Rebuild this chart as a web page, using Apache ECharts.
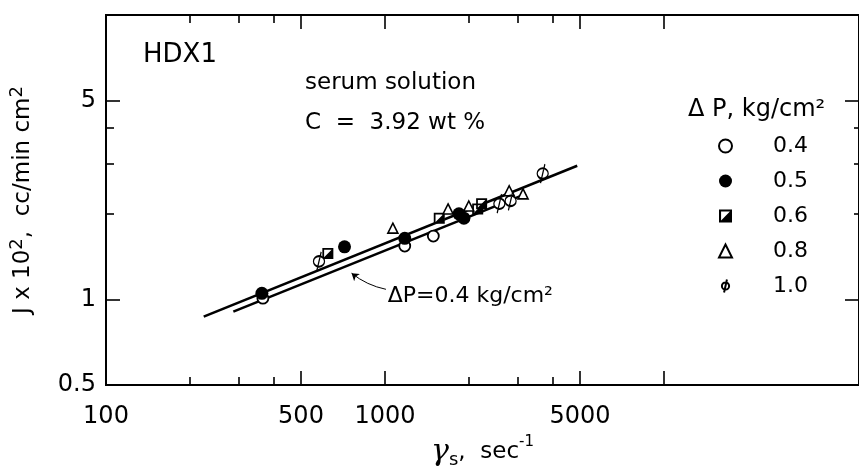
<!DOCTYPE html>
<html><head><meta charset="utf-8">
<script src="https://cdn.jsdelivr.net/npm/echarts@6/dist/echarts.min.js"></script>
<style>html,body{margin:0;padding:0;background:#fff}#c{width:859px;height:475px}</style>
</head><body><div id="c"></div>
<script>
// ---- data ----
const xTickMajor = [500, 1000, 5000, 10000];
const xTickMinor = [200, 300, 400, 2000, 3000, 4000];
const xTickLabels = [100, 500, 1000, 5000];
const yTickMajor = [1, 5];
const yTickMinor = [2, 3, 4];
const yTickLabels = [0.5, 1, 5];
const seriesNames = ['0.4', '0.5', '0.6', '0.8', '1.0'];
const dp04 = [[365, 1.01], [1177, 1.54], [1490, 1.67]];
const dp05 = [[362, 1.05], [716, 1.53], [1177, 1.64], [1841, 2.0], [1918, 1.93]];
const dp06 = [[624, 1.45], [1565, 1.93], [2149, 2.08], [2220, 2.17]];
const dp08 = [[1067, 1.78], [1683, 2.08], [1997, 2.13], [2787, 2.41], [3125, 2.35]];
const dp10 = [[580, 1.36], [2570, 2.17], [2820, 2.22], [3675, 2.77]];
const fitUpper = [[224, 0.87], [4887, 2.95]];
const fitLower = [[286, 0.906], [3200, 2.35]];
const noteArrow = [[1008, 1.085], [759, 1.236]];
const noteAnchor = [1023, 1.025];
const noteText = 'ΔP=0.4 kg/cm²';

// ---- chart ----
const FONT = 'DejaVu Sans';
const BLACK = '#000';
const xMin = 100, xMax = 50000, yMin = 0.5, yMax = 10;
const sqPath = 'path://M0,0L10,0L10,10L0,10ZM1.6,1.6L1.6,8.4L8.4,8.4L8.4,1.6ZM8.4,1.6L8.4,8.4L1.6,8.4Z';
const phiPath = 'path://M10,9A5,5,0,1,1,0,9A5,5,0,1,1,10,9ZM7,0L3,18';
const plain = v => String(v);

function xAxisDef(pos, ticks, len, labels, extra) {
  return Object.assign({
    type: 'log', logBase: 10, min: xMin, max: xMax, position: pos,
    axisLine: { show: true, lineStyle: { color: BLACK, width: 2 } },
    axisTick: { show: true, inside: true, length: len, customValues: ticks, lineStyle: { color: BLACK, width: 1.6 } },
    axisLabel: labels ? { show: true, customValues: labels, formatter: plain, fontSize: 24, fontFamily: FONT, color: BLACK, margin: 20 } : { show: false },
    splitLine: { show: false }, minorTick: { show: false }
  }, extra || {});
}
function yAxisDef(pos, ticks, len, labels, extra) {
  return Object.assign({
    type: 'log', logBase: 10, min: yMin, max: yMax, position: pos,
    axisLine: { show: true, lineStyle: { color: BLACK, width: 2 } },
    axisTick: { show: true, inside: true, length: len, customValues: ticks, lineStyle: { color: BLACK, width: 1.6 } },
    axisLabel: labels ? { show: true, customValues: labels, formatter: plain, fontSize: 24, fontFamily: FONT, color: BLACK, margin: 10 } : { show: false },
    splitLine: { show: false }, minorTick: { show: false }
  }, extra || {});
}

const option = {
  backgroundColor: '#fff',
  animation: false,
  grid: { left: 104, top: 15, bottom: 90, right: -9, containLabel: false },
  xAxis: [
    xAxisDef('bottom', xTickMajor, 14, xTickLabels, {
      name: '{g|γ}{s|s}{t|,  sec}{p|-1}', nameLocation: 'middle', nameGap: 50,
      nameTextStyle: { color: BLACK, fontFamily: FONT, rich: {
        g: { fontSize: 30, fontStyle: 'italic', fontFamily: 'DejaVu Serif', lineHeight: 34, color: BLACK },
        s: { fontSize: 18, lineHeight: 18, verticalAlign: 'bottom', fontFamily: FONT, color: BLACK },
        t: { fontSize: 23, lineHeight: 26, fontFamily: FONT, color: BLACK },
        p: { fontSize: 15, lineHeight: 15, verticalAlign: 'top', fontFamily: FONT, color: BLACK }
      } }
    }),
    xAxisDef('bottom', xTickMinor, 8, null),
    xAxisDef('top', xTickMajor, 14, null),
    xAxisDef('top', xTickMinor, 8, null)
  ],
  yAxis: [
    yAxisDef('left', yTickMajor, 14, yTickLabels, {
      name: 'J x 10{sup|2},  cc/min cm{sup|2}', nameLocation: 'middle', nameGap: 68, nameRotate: 90,
      nameTextStyle: { color: BLACK, fontFamily: FONT, fontSize: 23, lineHeight: 30, rich: {
        sup: { fontSize: 18, lineHeight: 18, verticalAlign: 'top', fontFamily: FONT, color: BLACK }
      } }
    }),
    yAxisDef('left', yTickMinor, 8, null),
    yAxisDef('right', yTickMajor, 14, null),
    yAxisDef('right', yTickMinor, 5, null)
  ],
  legend: {
    orient: 'vertical', left: 713, top: 130, itemWidth: 13, itemHeight: 13, itemGap: 13,
    selectedMode: false, data: seriesNames,
    textStyle: { fontSize: 22, fontFamily: FONT, color: BLACK, lineHeight: 22, padding: [0, 0, 0, 36] }
  },
  graphic: [
    { type: 'text', left: 143, top: 42, style: { text: 'HDX1', font: '26px "DejaVu Sans"', fill: BLACK } },
    { type: 'text', left: 305, top: 72, style: { text: 'serum solution', font: '23px "DejaVu Sans"', fill: BLACK } },
    { type: 'text', left: 305, top: 112, style: { text: 'C  =  3.92 wt %', font: '23px "DejaVu Sans"', fill: BLACK } },
    { type: 'text', left: 688, top: 98, style: { text: 'Δ P, kg/cm²', font: '24px "DejaVu Sans"', fill: BLACK } }
  ],
  series: [
    { type: 'line', data: fitUpper, symbol: 'none', lineStyle: { color: BLACK, width: 2.6 }, silent: true, z: 1 },
    { type: 'line', data: fitLower, symbol: 'none', lineStyle: { color: BLACK, width: 2.6 }, silent: true, z: 1 },
    { type: 'lines', coordinateSystem: 'cartesian2d', silent: true, z: 1,
      symbol: ['none', 'arrow'], symbolSize: 7,
      lineStyle: { color: BLACK, width: 1, opacity: 1, curveness: 0.12 },
      data: [{ coords: noteArrow }] },
    { type: 'scatter', data: [noteAnchor], symbolSize: 0, silent: true,
      itemStyle: { opacity: 1 },
      label: { show: true, position: 'right', distance: 0, formatter: noteText, fontSize: 22, fontFamily: FONT, color: BLACK, opacity: 1 } },
    { name: seriesNames[0], type: 'scatter', data: dp04, symbol: 'circle', symbolSize: 11,
      itemStyle: { color: '#fff', borderColor: BLACK, borderWidth: 1.8, opacity: 1 } },
    { name: seriesNames[1], type: 'scatter', data: dp05, symbol: 'circle', symbolSize: 13,
      itemStyle: { color: BLACK, borderColor: BLACK, borderWidth: 0, opacity: 1 } },
    { type: 'scatter', data: dp06, symbol: 'rect', symbolSize: 10, silent: true,
      itemStyle: { color: '#fff', borderWidth: 0, opacity: 1 } },
    { name: seriesNames[2], type: 'scatter', data: dp06, symbol: sqPath, symbolSize: 11,
      itemStyle: { color: BLACK, borderWidth: 0, opacity: 1 } },
    { name: seriesNames[3], type: 'scatter', data: dp08, symbol: 'triangle', symbolSize: 10,
      itemStyle: { color: '#fff', borderColor: BLACK, borderWidth: 1.6, opacity: 1 } },
    { name: seriesNames[4], type: 'scatter', data: dp10, symbol: phiPath, symbolSize: [11, 19],
      itemStyle: { color: '#fff', borderColor: BLACK, borderWidth: 1.6, opacity: 1 } }
  ]
};
const chart = echarts.init(document.getElementById('c'), null, { renderer: 'canvas' });
chart.setOption(option);
</script>
</body></html>
